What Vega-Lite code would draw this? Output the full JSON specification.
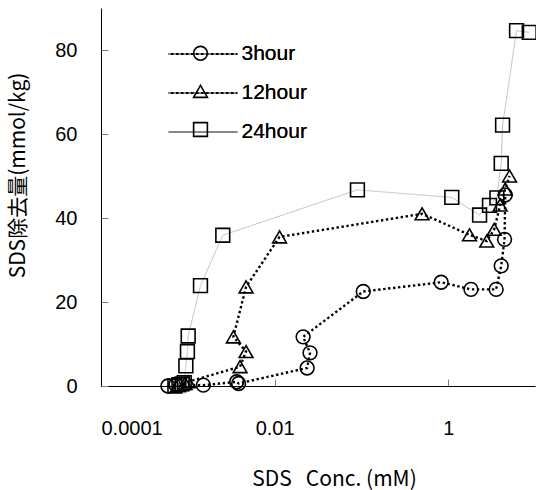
{
  "$schema": "https://vega.github.io/schema/vega-lite/v6.json",
  "width": 434,
  "height": 378,
  "autosize": {"type": "none"},
  "padding": {"left": 101, "top": 8, "right": 1, "bottom": 104},
  "background": "white",
  "config": {"view": {"stroke": null}, "font": "Liberation Sans"},
  "data": {"values": [
    {"series": "3hour", "idx": 1, "conc": 0.00059, "removal": 0},
    {"series": "3hour", "idx": 2, "conc": 0.00073, "removal": 0.3},
    {"series": "3hour", "idx": 3, "conc": 0.00151, "removal": 0.2},
    {"series": "3hour", "idx": 4, "conc": 0.00366, "removal": 1.0},
    {"series": "3hour", "idx": 5, "conc": 0.00385, "removal": 0.6},
    {"series": "3hour", "idx": 6, "conc": 0.0237, "removal": 4.3},
    {"series": "3hour", "idx": 7, "conc": 0.0256, "removal": 7.9},
    {"series": "3hour", "idx": 8, "conc": 0.0213, "removal": 11.7},
    {"series": "3hour", "idx": 9, "conc": 0.105, "removal": 22.5},
    {"series": "3hour", "idx": 10, "conc": 0.83, "removal": 24.7},
    {"series": "3hour", "idx": 11, "conc": 1.83, "removal": 23.0},
    {"series": "3hour", "idx": 12, "conc": 3.57, "removal": 23.0},
    {"series": "3hour", "idx": 13, "conc": 4.08, "removal": 28.6},
    {"series": "3hour", "idx": 14, "conc": 4.46, "removal": 34.9},
    {"series": "3hour", "idx": 15, "conc": 4.54, "removal": 45.5},
    {"series": "12hour", "idx": 1, "conc": 0.00077, "removal": 0.2},
    {"series": "12hour", "idx": 2, "conc": 0.00093, "removal": 0.6},
    {"series": "12hour", "idx": 3, "conc": 0.00101, "removal": 1.0},
    {"series": "12hour", "idx": 4, "conc": 0.0040, "removal": 4.6},
    {"series": "12hour", "idx": 5, "conc": 0.00469, "removal": 8.2},
    {"series": "12hour", "idx": 6, "conc": 0.00335, "removal": 11.7},
    {"series": "12hour", "idx": 7, "conc": 0.00469, "removal": 23.6},
    {"series": "12hour", "idx": 8, "conc": 0.0114, "removal": 35.5},
    {"series": "12hour", "idx": 9, "conc": 0.50, "removal": 41.0},
    {"series": "12hour", "idx": 10, "conc": 1.76, "removal": 36.0},
    {"series": "12hour", "idx": 11, "conc": 2.78, "removal": 34.5},
    {"series": "12hour", "idx": 12, "conc": 3.39, "removal": 37.3},
    {"series": "12hour", "idx": 13, "conc": 3.97, "removal": 43.1},
    {"series": "12hour", "idx": 14, "conc": 4.54, "removal": 46.9},
    {"series": "12hour", "idx": 15, "conc": 5.09, "removal": 50.0},
    {"series": "24hour", "idx": 1, "conc": 0.00071, "removal": 0},
    {"series": "24hour", "idx": 2, "conc": 0.00079, "removal": 0.3},
    {"series": "24hour", "idx": 3, "conc": 0.00086, "removal": 0.5},
    {"series": "24hour", "idx": 4, "conc": 0.00091, "removal": 0.8},
    {"series": "24hour", "idx": 5, "conc": 0.00095, "removal": 4.8},
    {"series": "24hour", "idx": 6, "conc": 0.00099, "removal": 8.2},
    {"series": "24hour", "idx": 7, "conc": 0.00101, "removal": 11.9},
    {"series": "24hour", "idx": 8, "conc": 0.0014, "removal": 23.9},
    {"series": "24hour", "idx": 9, "conc": 0.00253, "removal": 35.9},
    {"series": "24hour", "idx": 10, "conc": 0.090, "removal": 46.7},
    {"series": "24hour", "idx": 11, "conc": 1.10, "removal": 44.9},
    {"series": "24hour", "idx": 12, "conc": 2.30, "removal": 40.7},
    {"series": "24hour", "idx": 13, "conc": 2.99, "removal": 43.0},
    {"series": "24hour", "idx": 14, "conc": 3.64, "removal": 44.8},
    {"series": "24hour", "idx": 15, "conc": 4.08, "removal": 53.0},
    {"series": "24hour", "idx": 16, "conc": 4.23, "removal": 62.1},
    {"series": "24hour", "idx": 17, "conc": 6.13, "removal": 84.6},
    {"series": "24hour", "idx": 18, "conc": 8.59, "removal": 84.2}
  ]},
  "encoding": {
    "x": {
      "field": "conc", "type": "quantitative",
      "scale": {"type": "log", "domain": [0.0001, 10], "nice": false},
      "axis": {
        "values": [0.0001, 0.01, 1],
        "labelExpr": "toString(datum.value)",
        "grid": false,
        "domainColor": "black", "domainWidth": 1,
        "tickColor": "#808080", "tickSize": -7, "tickWidth": 1,
        "labelFont": "Liberation Sans", "labelFontSize": 20, "labelFontWeight": "normal", "labelColor": "black",
        "labelPadding": 39, "labelBaseline": "top",
        "title": "SDS\u00a0\u00a0\u00a0Conc. (mM)",
        "titleFont": "Noto Sans CJK JP", "titleFontSize": 21, "titleFontWeight": "normal", "titleColor": "black",
        "titleX": 233, "titleY": 93, "titleBaseline": "middle", "titleAlign": "center"
      }
    },
    "y": {
      "field": "removal", "type": "quantitative",
      "scale": {"domain": [0, 90], "nice": false},
      "axis": {
        "values": [0, 20, 40, 60, 80],
        "grid": false,
        "domainColor": "black", "domainWidth": 1,
        "tickColor": "#808080", "tickSize": -7, "tickWidth": 1,
        "labelFont": "Liberation Sans", "labelFontSize": 20, "labelFontWeight": "normal", "labelColor": "black",
        "labelPadding": 31,
        "title": "SDS除去量(mmol/kg)",
        "titleFont": "Noto Sans CJK JP", "titleFontSize": 21, "titleFontWeight": "normal", "titleColor": "black",
        "titleX": -83, "titleY": 167, "titleBaseline": "middle", "titleAlign": "center"
      }
    },
    "color": {
      "field": "series", "type": "nominal", "sort": ["3hour", "12hour", "24hour"],
      "scale": {"range": ["black", "black", "#c0c0c0"]},
      "legend": {"orient": "none", "legendX": 91.5, "legendY": 35.5, "title": null, "symbolType": "M-5,0H5", "symbolSize": 190, "symbolStrokeWidth": 1.8, "labelFont": "Liberation Sans", "labelFontSize": 21, "labelFontWeight": "normal", "labelColor": "black", "labelOffset": 28, "rowPadding": 17, "padding": 0}
    },
    "strokeDash": {
      "field": "series", "type": "nominal", "sort": ["3hour", "12hour", "24hour"],
      "scale": {"range": [[2.4, 2.6], [2.4, 2.6], [1, 0]]},
      "legend": {"orient": "none", "legendX": 91.5, "legendY": 35.5, "title": null, "symbolType": "M-5,0H5", "symbolSize": 190, "symbolStrokeWidth": 1.8, "labelFont": "Liberation Sans", "labelFontSize": 21, "labelFontWeight": "normal", "labelColor": "black", "labelOffset": 28, "rowPadding": 17, "padding": 0}
    }
  },
  "layer": [
    {
      "transform": [{"filter": "datum.series != '24hour'"}],
      "mark": {"type": "line", "strokeCap": "butt", "strokeWidth": 2.4},
      "encoding": {
        "order": {"field": "idx", "type": "quantitative"}
      }
    },
    {
      "transform": [{"filter": "datum.series == '24hour'"}],
      "mark": {"type": "line", "strokeCap": "butt", "strokeWidth": 1},
      "encoding": {
        "order": {"field": "idx", "type": "quantitative"}
      }
    },
    {
      "mark": {"type": "point", "filled": false, "size": 190, "strokeWidth": 1.6, "color": "black", "opacity": 1},
      "encoding": {
        "color": null,
        "strokeDash": null,
        "shape": {
          "field": "series", "type": "nominal",
          "scale": {"domain": ["3hour", "12hour", "24hour"], "range": ["circle", "triangle-up", "square"]},
          "legend": {"orient": "none", "legendX": 91.5, "legendY": 37.3, "title": null, "symbolSize": 190, "symbolStrokeWidth": 1.6, "symbolStrokeColor": "black", "labelExpr": "''", "rowPadding": 17.1, "padding": 0}
        }
      }
    }
  ]
}
